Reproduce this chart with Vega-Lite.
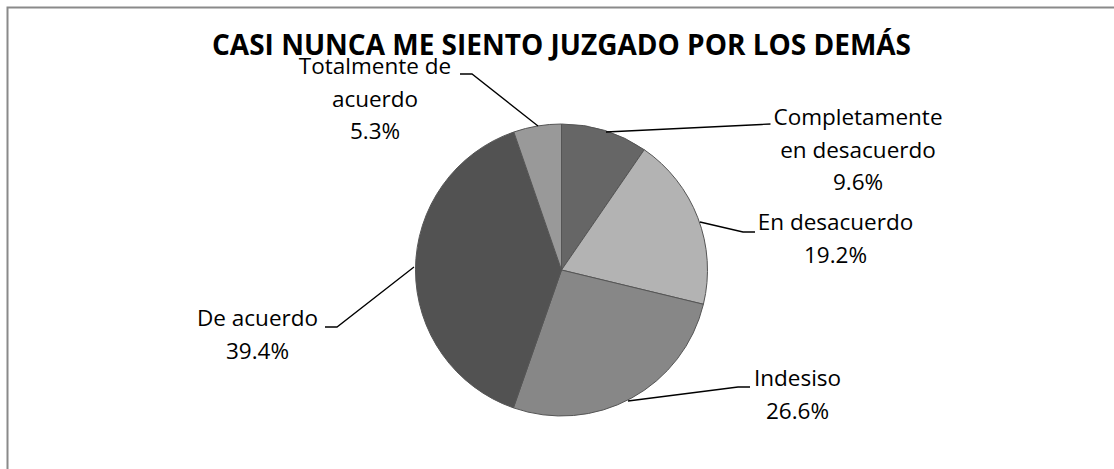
{
  "$schema": "https://vega.github.io/schema/vega-lite/v6.json",
  "width": 1114,
  "height": 469,
  "autosize": {"type": "none"},
  "padding": 0,
  "background": "#ffffff",
  "config": {"view": {"stroke": null}},
  "datasets": {
    "slices": [
      {"i": 1, "categoria": "Completamente en desacuerdo", "porcentaje": 9.6, "etiqueta": "Completamente\nen desacuerdo\n9.6%", "lx": 296.5, "ly": 152},
      {"i": 2, "categoria": "En desacuerdo", "porcentaje": 19.2, "etiqueta": "En desacuerdo\n19.2%", "lx": 274, "ly": 47},
      {"i": 3, "categoria": "Indesiso", "porcentaje": 26.6, "etiqueta": "Indesiso\n26.6%", "lx": 236, "ly": -109},
      {"i": 4, "categoria": "De acuerdo", "porcentaje": 39.4, "etiqueta": "De acuerdo\n39.4%", "lx": -304, "ly": -49},
      {"i": 5, "categoria": "Totalmente de acuerdo", "porcentaje": 5.3, "etiqueta": "Totalmente de\nacuerdo\n5.3%", "lx": -186.5, "ly": 203}
    ],
    "leaders": [
      {"categoria": "Completamente en desacuerdo", "k": 1, "x": 44.5, "y": 138},
      {"categoria": "Completamente en desacuerdo", "k": 2, "x": 200, "y": 145.5},
      {"categoria": "Completamente en desacuerdo", "k": 3, "x": 209, "y": 146},
      {"categoria": "En desacuerdo", "k": 1, "x": 138.5, "y": 48},
      {"categoria": "En desacuerdo", "k": 2, "x": 181.5, "y": 38},
      {"categoria": "En desacuerdo", "k": 3, "x": 193.5, "y": 38},
      {"categoria": "Indesiso", "k": 1, "x": 66.5, "y": -131},
      {"categoria": "Indesiso", "k": 2, "x": 176.5, "y": -117},
      {"categoria": "Indesiso", "k": 3, "x": 188.5, "y": -117},
      {"categoria": "De acuerdo", "k": 1, "x": -147.5, "y": 3},
      {"categoria": "De acuerdo", "k": 2, "x": -224.5, "y": -57},
      {"categoria": "De acuerdo", "k": 3, "x": -236.5, "y": -57},
      {"categoria": "Totalmente de acuerdo", "k": 1, "x": -23.5, "y": 144},
      {"categoria": "Totalmente de acuerdo", "k": 2, "x": -89.5, "y": 196},
      {"categoria": "Totalmente de acuerdo", "k": 3, "x": -101.5, "y": 196}
    ],
    "frame": [{"x": -554, "x2": 600, "y": 262.5, "y2": -260}],
    "titulo": [{"texto": "CASI NUNCA ME SIENTO JUZGADO POR LOS DEMÁS", "x": 0, "y": 215}]
  },
  "layer": [
    {
      "data": {"name": "frame"},
      "mark": {"type": "rect", "fill": null, "stroke": "#8a8a8a", "strokeWidth": 2},
      "encoding": {
        "x": {"field": "x", "type": "quantitative", "scale": {"domain": [-561.5, 552.5], "nice": false, "zero": false}, "axis": null},
        "x2": {"field": "x2"},
        "y": {"field": "y", "type": "quantitative", "scale": {"domain": [-199, 270], "nice": false, "zero": false}, "axis": null},
        "y2": {"field": "y2"}
      }
    },
    {
      "data": {"name": "slices"},
      "mark": {"type": "arc", "outerRadius": 146, "stroke": "#555555", "strokeWidth": 1},
      "encoding": {
        "x": {"datum": 0, "type": "quantitative"},
        "y": {"datum": 0, "type": "quantitative"},
        "theta": {"field": "porcentaje", "type": "quantitative", "stack": true},
        "order": {"field": "i", "type": "quantitative"},
        "color": {
          "field": "categoria",
          "type": "nominal",
          "scale": {
            "domain": ["Completamente en desacuerdo", "En desacuerdo", "Indesiso", "De acuerdo", "Totalmente de acuerdo"],
            "range": ["#666666", "#b3b3b3", "#878787", "#525252", "#999999"]
          },
          "legend": null
        }
      }
    },
    {
      "data": {"name": "leaders"},
      "mark": {"type": "line", "color": "#000000", "strokeWidth": 1.3},
      "encoding": {
        "x": {"field": "x", "type": "quantitative"},
        "y": {"field": "y", "type": "quantitative"},
        "detail": {"field": "categoria", "type": "nominal"},
        "order": {"field": "k", "type": "quantitative"}
      }
    },
    {
      "data": {"name": "slices"},
      "mark": {"type": "text", "font": "Open Sans", "fontSize": 22.5, "color": "#000000", "align": "center", "baseline": "middle", "lineBreak": "\n", "lineHeight": 32.5},
      "encoding": {
        "x": {"field": "lx", "type": "quantitative"},
        "y": {"field": "ly", "type": "quantitative"},
        "text": {"field": "etiqueta", "type": "nominal"}
      }
    },
    {
      "data": {"name": "titulo"},
      "mark": {"type": "text", "font": "Open Sans", "fontSize": 28, "fontWeight": "bold", "color": "#000000", "align": "center", "baseline": "alphabetic"},
      "encoding": {
        "x": {"field": "x", "type": "quantitative"},
        "y": {"field": "y", "type": "quantitative"},
        "text": {"field": "texto", "type": "nominal"}
      }
    }
  ]
}
